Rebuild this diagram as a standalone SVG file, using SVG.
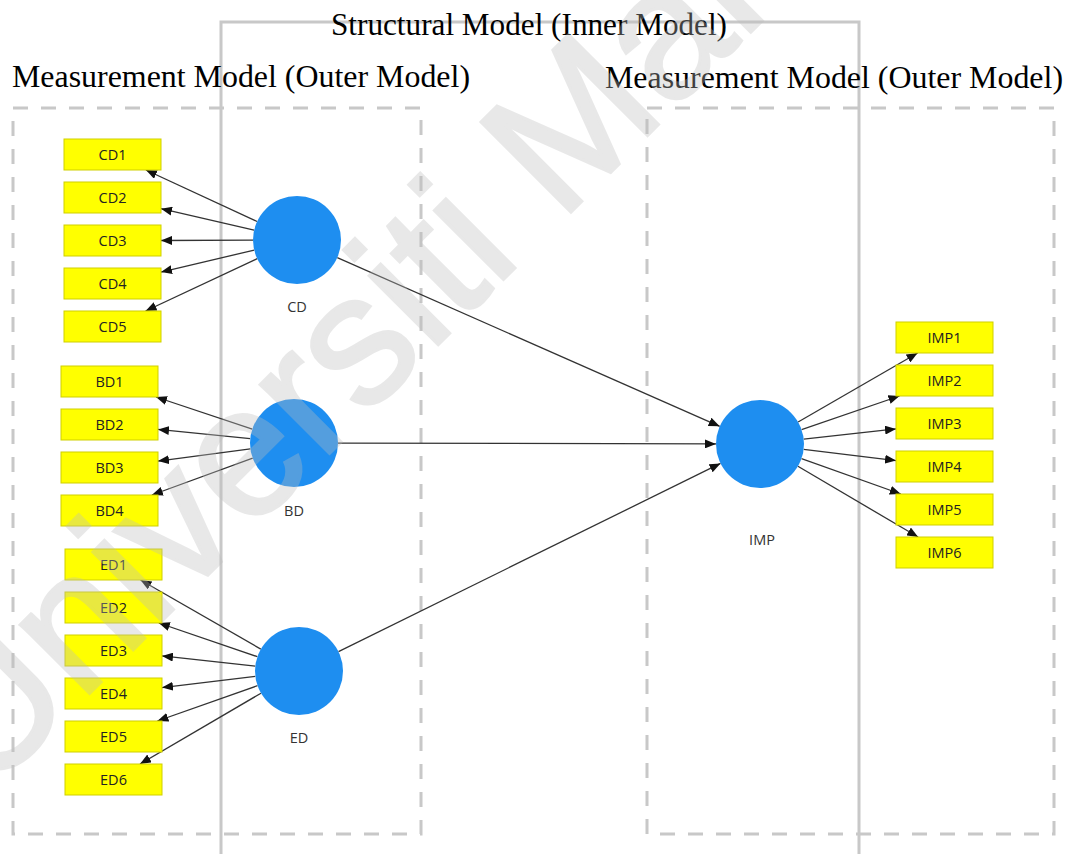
<svg xmlns="http://www.w3.org/2000/svg" width="1077" height="854" viewBox="0 0 1077 854">
  <defs>
    <style>
      .title { font-family: "Liberation Serif", "Times New Roman", serif; font-size: 32px; fill: #000; }
      .frame { fill: none; stroke: #c8c8c8; stroke-width: 3; }
      .dashed { stroke-dasharray: 15 13; }
      .ind rect { fill: #ffff00; stroke: #cfcf00; stroke-width: 1; }
      .ind text, .lv text { font-family: "Open Sans", "Noto Sans", sans-serif; font-size: 14.5px; text-anchor: middle; }
      .ind text { fill: #222; }
      .lv circle { fill: #1e8ef0; }
      .lv text { fill: #333; }
      .conn line { stroke: #333; stroke-width: 1.3; marker-end: url(#arr); }
      .wm { font-family: "Liberation Sans", Arial, sans-serif; font-size: 185px; fill: #bdbdbd; stroke: #bdbdbd; stroke-width: 3; opacity: 0.34; }
    </style>
    <marker id="arr" markerUnits="userSpaceOnUse" markerWidth="11" markerHeight="9" refX="11" refY="4.5" orient="auto">
      <path d="M0,0 L11,4.5 L0,9 z" fill="#111"/>
    </marker>
  </defs>

  <rect width="1077" height="854" fill="#fff"/>

  <!-- model frames -->
  <g id="frames">
    <path class="frame" d="M221,854 V22 H859 V854"/>
    <rect class="frame dashed" x="13" y="108" width="408" height="726"/>
    <rect class="frame dashed" x="647" y="108" width="407" height="726"/>
  </g>

  <g id="titles">
    <text class="title" x="331" y="35" font-size="31" textLength="396" lengthAdjust="spacingAndGlyphs">Structural Model (Inner Model)</text>
    <text class="title" x="12" y="87" textLength="458" lengthAdjust="spacingAndGlyphs">Measurement Model (Outer Model)</text>
    <text class="title" x="605" y="88" textLength="458" lengthAdjust="spacingAndGlyphs">Measurement Model (Outer Model)</text>
  </g>

  <!-- connectors: latent variable to indicators, and structural paths -->
  <g id="connectors" class="conn">
    <line x1="257.1" y1="221.5" x2="145.9" y2="170"/>
    <line x1="254.1" y1="230.1" x2="161" y2="208.7"/>
    <line x1="253" y1="240.1" x2="161" y2="240.5"/>
    <line x1="254.2" y1="250.1" x2="161" y2="272.1"/>
    <line x1="257.2" y1="258.7" x2="145.6" y2="311"/>

    <line x1="252.3" y1="429.1" x2="156" y2="397"/>
    <line x1="250.2" y1="438.6" x2="158" y2="429.4"/>
    <line x1="250.4" y1="448.8" x2="158" y2="461.1"/>
    <line x1="252.7" y1="458.1" x2="151.9" y2="495"/>

    <line x1="260.8" y1="649.1" x2="140.5" y2="580"/>
    <line x1="257.4" y1="656.7" x2="158.8" y2="623"/>
    <line x1="255.3" y1="666.2" x2="162" y2="655.9"/>
    <line x1="255.3" y1="676.3" x2="162" y2="687.6"/>
    <line x1="257.5" y1="685.7" x2="157.4" y2="721"/>
    <line x1="261" y1="693.2" x2="140" y2="764"/>

    <line x1="798.1" y1="422" x2="917.6" y2="353"/>
    <line x1="801.6" y1="429.7" x2="899.5" y2="396"/>
    <line x1="803.7" y1="439.1" x2="896" y2="428.9"/>
    <line x1="803.7" y1="449.3" x2="896" y2="460.6"/>
    <line x1="801.5" y1="458.7" x2="900.8" y2="494"/>
    <line x1="797.9" y1="466.3" x2="918.1" y2="537"/>

    <line x1="337.3" y1="257.7" x2="719.7" y2="426.3"/>
    <line x1="338" y1="443.1" x2="716" y2="443.9"/>
    <line x1="338.5" y1="651.6" x2="720.5" y2="463.4"/>
  </g>

  <!-- latent variables -->
  <g id="CD" class="lv"><circle cx="297" cy="240" r="44"/><text x="297" y="311.5">CD</text></g>
  <g id="BD" class="lv"><circle cx="294" cy="443" r="44"/><text x="294" y="515.5">BD</text></g>
  <g id="ED" class="lv"><circle cx="299" cy="671" r="44"/><text x="299" y="742.5">ED</text></g>
  <g id="IMP" class="lv"><circle cx="760" cy="444" r="44"/><text x="762" y="544.5">IMP</text></g>

  <!-- indicators -->
  <g id="CD1" class="ind"><rect x="64" y="139" width="97" height="31"/><text x="112.5" y="160">CD1</text></g>
  <g id="CD2" class="ind"><rect x="64" y="182" width="97" height="31"/><text x="112.5" y="203">CD2</text></g>
  <g id="CD3" class="ind"><rect x="64" y="225" width="97" height="31"/><text x="112.5" y="246">CD3</text></g>
  <g id="CD4" class="ind"><rect x="64" y="268" width="97" height="31"/><text x="112.5" y="289">CD4</text></g>
  <g id="CD5" class="ind"><rect x="64" y="311" width="97" height="31"/><text x="112.5" y="332">CD5</text></g>

  <g id="BD1" class="ind"><rect x="61" y="366" width="97" height="31"/><text x="109.5" y="387">BD1</text></g>
  <g id="BD2" class="ind"><rect x="61" y="409" width="97" height="31"/><text x="109.5" y="430">BD2</text></g>
  <g id="BD3" class="ind"><rect x="61" y="452" width="97" height="31"/><text x="109.5" y="473">BD3</text></g>
  <g id="BD4" class="ind"><rect x="61" y="495" width="97" height="31"/><text x="109.5" y="516">BD4</text></g>

  <g id="ED1" class="ind"><rect x="65" y="549" width="97" height="31"/><text x="113.5" y="570">ED1</text></g>
  <g id="ED2" class="ind"><rect x="65" y="592" width="97" height="31"/><text x="113.5" y="613">ED2</text></g>
  <g id="ED3" class="ind"><rect x="65" y="635" width="97" height="31"/><text x="113.5" y="656">ED3</text></g>
  <g id="ED4" class="ind"><rect x="65" y="678" width="97" height="31"/><text x="113.5" y="699">ED4</text></g>
  <g id="ED5" class="ind"><rect x="65" y="721" width="97" height="31"/><text x="113.5" y="742">ED5</text></g>
  <g id="ED6" class="ind"><rect x="65" y="764" width="97" height="31"/><text x="113.5" y="785">ED6</text></g>

  <g id="IMP1" class="ind"><rect x="896" y="322" width="97" height="31"/><text x="944.5" y="343">IMP1</text></g>
  <g id="IMP2" class="ind"><rect x="896" y="365" width="97" height="31"/><text x="944.5" y="386">IMP2</text></g>
  <g id="IMP3" class="ind"><rect x="896" y="408" width="97" height="31"/><text x="944.5" y="429">IMP3</text></g>
  <g id="IMP4" class="ind"><rect x="896" y="451" width="97" height="31"/><text x="944.5" y="472">IMP4</text></g>
  <g id="IMP5" class="ind"><rect x="896" y="494" width="97" height="31"/><text x="944.5" y="515">IMP5</text></g>
  <g id="IMP6" class="ind"><rect x="896" y="537" width="97" height="31"/><text x="944.5" y="558">IMP6</text></g>

  <!-- watermark -->
  <text class="wm" transform="translate(-14,797) rotate(-45)">Universiti Malaya</text>
</svg>
